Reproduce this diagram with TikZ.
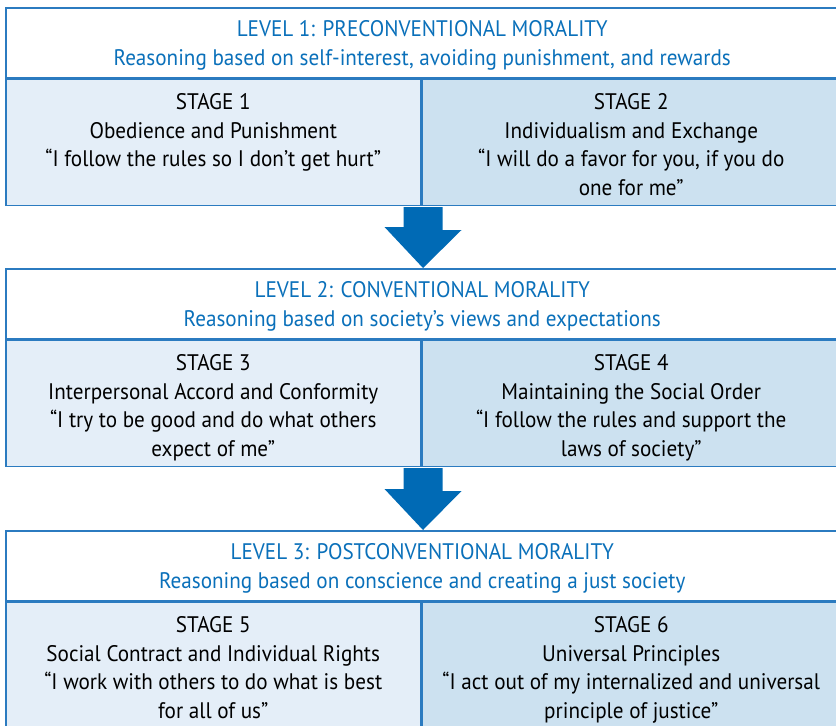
\documentclass[tikz,border=0pt]{standalone}
\usepackage{fontspec}
\setmainfont{PT Sans}[FakeStretch=0.94]
\usetikzlibrary{positioning}
\definecolor{lineblue}{HTML}{2B7BC0}
\definecolor{textblue}{HTML}{0A70BA}
\definecolor{arrowblue}{HTML}{006AB5}
\definecolor{stageleft}{HTML}{E4EEF8}
\definecolor{stageright}{HTML}{CCE1F0}
\begin{document}
\begin{tikzpicture}[x=1pt,y=1pt,
    every node/.style={font=\fontsize{22.5}{28.5}\selectfont, inner sep=0pt},
    level/.style={draw=lineblue, line width=1.5pt, fill=white,
      minimum width=833pt, minimum height=70pt, anchor=north west},
    head/.style={text=textblue, align=center, yshift=-2.5pt},
    stage/.style={draw=lineblue, line width=1.5pt, minimum width=415pt,
      minimum height=126pt, anchor=north west},
    words/.style={anchor=north, align=center}]
  \clip (0,0) rectangle (836,-726);
  \fill[white] (0,0) rectangle (836,-726);
  % level 1
  \node[level] (L1) at (5,-7) {};
  \node[head] (H1) at (L1.center) {LEVEL 1: PRECONVENTIONAL MORALITY\\
    Reasoning based on self-interest, avoiding punishment, and rewards};
  \node[stage, fill=stageleft] (S1) at (L1.south west) {};
  \node[stage, fill=stageright, minimum width=418pt] (S2) at (S1.north east) {};
  \node[words, below=15pt of S1.north] (T1) {STAGE 1\\Obedience and Punishment\\
    “I follow the rules so I don’t get hurt”};
  \node[words, below=15pt of S2.north] (T2) {STAGE 2\\Individualism and Exchange\\
    “I will do a favor for you, if you do\\one for me”};
  % level 2
  \node[level] (L2) at (5,-268) {};
  \node[head] (H2) at (L2.center) {LEVEL 2: CONVENTIONAL MORALITY\\
    Reasoning based on society’s views and expectations};
  \node[stage, fill=stageleft] (S3) at (L2.south west) {};
  \node[stage, fill=stageright, minimum width=418pt] (S4) at (S3.north east) {};
  \node[words, below=15pt of S3.north] (T3) {STAGE 3\\Interpersonal Accord and Conformity\\
    “I try to be good and do what others\\expect of me”};
  \node[words, below=15pt of S4.north] (T4) {STAGE 4\\Maintaining the Social Order\\
    “I follow the rules and support the\\laws of society”};
  % level 3
  \node[level] (L3) at (5,-530) {};
  \node[head] (H3) at (L3.center) {LEVEL 3: POSTCONVENTIONAL MORALITY\\
    Reasoning based on conscience and creating a just society};
  \node[stage, fill=stageleft] (S5) at (L3.south west) {};
  \node[stage, fill=stageright, minimum width=418pt] (S6) at (S5.north east) {};
  \node[words, below=15pt of S5.north] (T5) {STAGE 5\\Social Contract and Individual Rights\\
    “I work with others to do what is best\\for all of us”};
  \node[words, below=15pt of S6.north] (T6) {STAGE 6\\Universal Principles\\
    “I act out of my internalized and universal\\principle of justice”};
  % arrows between levels
  \foreach \from/\to in {S2/L2, S4/L3}
    \fill[arrowblue] (\from.south west) ++(-18,-1) -- ++(39,0) -- ++(0,-23)
      -- ++(19,0) -- ([xshift=1.5pt]\from.south west |- \to.north) -- ++(-38.5,41)
      -- ++(19,0) -- cycle;
\end{tikzpicture}
\end{document}
